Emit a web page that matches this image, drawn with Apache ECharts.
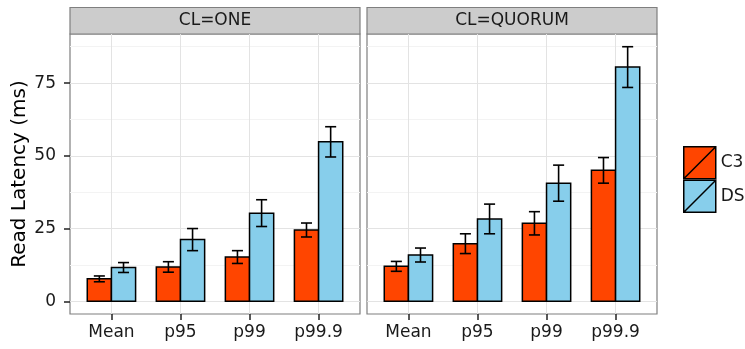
<!DOCTYPE html>
<html>
<head>
<meta charset="utf-8">
<title>Read Latency</title>
<script src="https://cdn.jsdelivr.net/npm/echarts@6/dist/echarts.min.js"></script>
<style>
  html, body { margin: 0; padding: 0; background: #fff; }
  #chart { width: 745px; height: 349px; }
</style>
</head>
<body>
<div id="chart"></div>
<script>
// Latency statistics per consistency level
const categories = ['Mean', 'p95', 'p99', 'p99.9'];
const panels = ['CL=ONE', 'CL=QUORUM'];
const seriesNames = ['C3', 'DS'];

const oneC3 = [7.7, 11.8, 15.2, 24.5];
const oneC3Err = [1.0, 1.8, 2.2, 2.4];
const oneDS = [11.6, 21.2, 30.3, 54.8];
const oneDSErr = [1.7, 3.8, 4.6, 5.2];

const quorumC3 = [12.0, 19.8, 26.8, 45.0];
const quorumC3Err = [1.7, 3.4, 4.0, 4.4];
const quorumDS = [15.9, 28.3, 40.6, 80.5];
const quorumDSErr = [2.4, 5.1, 6.2, 7.0];

const yTicks = [0, 25, 50, 75];
const yMinorTicks = [12.5, 37.5, 62.5, 87.5];

// Layout
const FONT = 'DejaVu Sans';
const PANEL_TOP = 34;
const PANEL_H = 280;
const PANEL_W = 290;
const PANEL_LEFT = [70, 367];
const STRIP_H = 26.5;
const COLORS = { C3: '#FF4500', DS: '#87CEEB' };
const BAR_W = 0.35;   // width of one dodged bar in category units
const CAP_HALF = 0.08; // half-width of the error bar caps

function makeItems(vals, errs) {
  return categories.map((c, i) => [i, vals[i], errs[i]]);
}

function barRenderer(side) {
  return function (params, api) {
    const x = api.value(0), v = api.value(1), e = api.value(2);
    const x0 = side < 0 ? x - BAR_W : x;
    const x1 = x0 + BAR_W;
    const xc = (x0 + x1) / 2;
    const pTop = api.coord([x0, v]);
    const pBase = api.coord([x1, 0]);
    const eHi = api.coord([xc, v + e]);
    const eLo = api.coord([xc, v - e]);
    const cL = api.coord([xc - CAP_HALF, v])[0];
    const cR = api.coord([xc + CAP_HALF, v])[0];
    const ln = { stroke: '#000', lineWidth: 1.6 };
    return {
      type: 'group',
      children: [
        {
          type: 'rect',
          shape: { x: pTop[0], y: pTop[1], width: pBase[0] - pTop[0], height: pBase[1] - pTop[1] },
          style: { fill: api.visual('color'), stroke: '#000', lineWidth: 1.5 }
        },
        { type: 'line', shape: { x1: eHi[0], y1: eHi[1], x2: eLo[0], y2: eLo[1] }, style: ln },
        { type: 'line', shape: { x1: cL, y1: eHi[1], x2: cR, y2: eHi[1] }, style: ln },
        { type: 'line', shape: { x1: cL, y1: eLo[1], x2: cR, y2: eLo[1] }, style: ln }
      ]
    };
  };
}

const panelData = [
  { C3: makeItems(oneC3, oneC3Err), DS: makeItems(oneDS, oneDSErr) },
  { C3: makeItems(quorumC3, quorumC3Err), DS: makeItems(quorumDS, quorumDSErr) }
];

const grids = [], xAxes = [], yAxes = [], series = [], graphics = [];
const tickLine = { color: '#222', width: 1.5 };

panels.forEach((name, g) => {
  grids.push({
    left: PANEL_LEFT[g], top: PANEL_TOP, width: PANEL_W, height: PANEL_H,
    show: true, backgroundColor: '#fff', borderColor: '#7f7f7f', borderWidth: 1.2
  });
  xAxes.push({
    type: 'value', gridIndex: g, min: -0.6, max: 3.6, position: 'bottom',
    axisLine: { show: false, onZero: false },
    axisTick: { show: true, length: 6, customValues: [0, 1, 2, 3], lineStyle: tickLine },
    axisLabel: {
      customValues: [0, 1, 2, 3], formatter: v => categories[Math.round(v)],
      margin: 10, fontFamily: FONT, fontSize: 17, color: '#1a1a1a'
    },
    splitLine: { show: true, lineStyle: { color: '#e3e3e3', width: 1 } }
  });
  // major grid, ticks and labels
  yAxes.push({
    type: 'value', gridIndex: g, min: -4.375, max: 91.875, position: 'left',
    axisLine: { show: false, onZero: false },
    axisTick: { show: g === 0, length: 6, customValues: yTicks, lineStyle: tickLine },
    axisLabel: {
      show: g === 0, customValues: yTicks, margin: 14,
      fontFamily: FONT, fontSize: 17, color: '#1a1a1a'
    },
    splitLine: { show: true, lineStyle: { color: '#e3e3e3', width: 1 } },
    name: g === 0 ? 'Read Latency (ms)' : '',
    nameLocation: 'middle', nameGap: 40,
    nameTextStyle: { fontFamily: FONT, fontSize: 20, color: '#000' }
  });
  // minor grid lines
  yAxes.push({
    type: 'value', gridIndex: g, min: -4.375, max: 91.875, position: 'left',
    axisLine: { show: false, onZero: false }, axisTick: { show: false, customValues: yMinorTicks },
    axisLabel: { show: false, customValues: yMinorTicks },
    splitLine: { show: true, lineStyle: { color: '#f3f3f3', width: 1.2 } }
  });

  seriesNames.forEach((s, k) => {
    series.push({
      type: 'custom', name: s, xAxisIndex: g, yAxisIndex: g * 2,
      itemStyle: { color: COLORS[s], borderColor: '#000', borderWidth: 1.5 },
      encode: { x: 0, y: 1 },
      renderItem: barRenderer(k === 0 ? -1 : 1),
      data: panelData[g][s],
      clip: true, z: 3
    });
  });

  // facet strip
  graphics.push({
    type: 'rect',
    shape: { x: PANEL_LEFT[g], y: PANEL_TOP - STRIP_H, width: PANEL_W, height: STRIP_H },
    style: { fill: '#cccccc', stroke: '#7f7f7f', lineWidth: 1.2 }
  });
  graphics.push({
    type: 'text',
    x: PANEL_LEFT[g] + PANEL_W / 2, y: PANEL_TOP - STRIP_H / 2,
    style: {
      text: name, fontFamily: FONT, fontSize: 17, fill: '#1a1a1a',
      textAlign: 'center', textVerticalAlign: 'middle'
    }
  });
});

const chart = echarts.init(document.getElementById('chart'));
chart.setOption({
  animation: false,
  backgroundColor: '#fff',
  grid: grids,
  xAxis: xAxes,
  yAxis: yAxes,
  series: series,
  graphic: graphics,
  legend: {
    data: seriesNames,
    orient: 'vertical',
    left: 683, top: 146, padding: 0,
    itemWidth: 32, itemHeight: 32, itemGap: 0,
    icon: 'path://M0,0H32V32H0Z M0,32L32,0',
    itemStyle: { borderColor: '#000', borderWidth: 1.5 },
    textStyle: { fontFamily: FONT, fontSize: 17, color: '#1a1a1a' }
  }
});
</script>
</body>
</html>
